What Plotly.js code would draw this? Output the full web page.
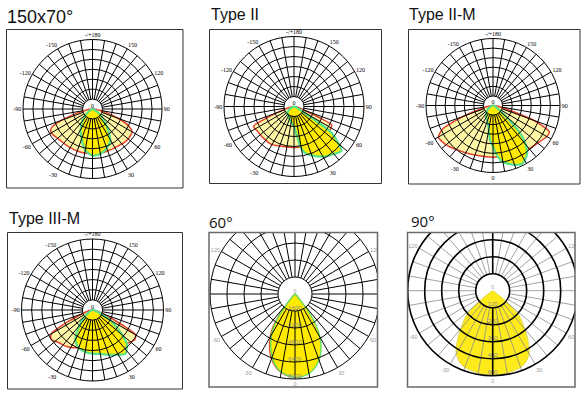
<!DOCTYPE html>
<html><head><meta charset="utf-8">
<script src="https://cdn.plot.ly/plotly-3.0.1.min.js"></script>
<style>html,body{margin:0;padding:0;background:#fff}#chart{width:583px;height:394px}</style>
</head><body><div id="chart"></div>
<script>
// ---------------- data ----------------
const titles = ["150x70°", "Type II", "Type II-M", "Type III-M", "60°", "90°"];
const gridAngles = [0,10,20,30,40,50,60,70,80,90,100,110,120,130,140,150,160,170,180,190,200,210,220,230,240,250,260,270,280,290,300,310,320,330,340,350];
const labelAngles = [0,30,60,90,120,150,180,210,240,270,300,330];
const labelTexts  = ["0","30","60","90","120","150","-/+180","-150","-120","-90","-60","-30"];
// labels that stay inside the frame of the clipped (60°, 90°) diagrams
const clippedLabelAngles = [0,30,60,120,240,300,330];

const ringsA = [1,2,3,4,5,6,7];
const rings60 = [1600,3200,4800,6400,8000];
const rings90 = [120,240,360,480,600];

// 150x70°
const p1RedTheta = [-90,-85,-80,-75,-70,-65,-60,-50,-40,-30,-20,-10,0,10,20,30,40,50,60,65,70,75,80,85,90];
const p1RedR     = [0,0.3,0.7,1.6,3.3,4.6,4.8,4.6,4.5,4.5,4.5,4.5,4.5,4.5,4.5,4.5,4.6,4.7,4.6,4.0,2.8,1.5,0.7,0.3,0];
const p1GreenTheta = [-90,-70,-60,-50,-40,-30,-20,-10,0,10,20,30,40,50,60,70,90];
const p1GreenR     = [0,0.1,0.3,0.9,1.6,2.4,3.2,4.2,4.7,4.6,4.2,3.6,2.2,1.2,0.5,0.1,0];
// Type II
const p2RedTheta = [-90,-80,-75,-70,-67,-64,-55,-45,-30,-20,-10,0,10,20,30,45,55,64,66,68,72,80,90];
const p2RedR     = [0,0.4,0.9,1.8,3.0,4.5,4.4,4.4,4.4,4.2,4.1,4.1,4.1,4.2,4.3,4.3,4.3,4.2,3.0,1.8,0.8,0.3,0];
const p2GreenTheta = [-90,-70,-60,-50,-40,-30,-20,-10,0,5,10,15,20,30,40,47,51,55,57,60,65,75,90];
const p2GreenR     = [0,0.2,0.5,0.8,1.0,1.1,1.3,1.6,2.0,2.8,4.3,4.9,5.2,5.8,6.2,6.5,5.6,4.6,2.5,1.0,0.4,0.1,0];
// Type II-M
const p3RedTheta = [-90,-80,-75,-70,-65,-60,-50,-40,-30,-20,-10,0,10,20,30,40,50,60,65,70,75,80,90];
const p3RedR     = [0,0.5,1.2,3.3,5.8,6.6,6.4,6.0,5.7,5.5,5.4,5.4,5.4,5.5,5.7,5.9,6.1,6.5,6.5,4.5,1.5,0.6,0];
const p3GreenTheta = [-90,-60,-45,-30,-15,-5,0,5,10,20,27,35,40,45,50,55,65,90];
const p3GreenR     = [0,0.4,1.0,1.4,2.0,3.6,4.3,5.3,6.0,6.6,6.8,6.2,5.3,3.8,1.6,0.8,0.3,0];
// Type III-M
const p4RedTheta = [-90,-80,-70,-65,-60,-55,-45,-35,-20,-10,0,10,20,35,45,55,60,65,70,80,90];
const p4RedR     = [0,0.3,1.0,2.5,4.7,5.0,4.6,4.4,4.0,3.8,3.8,3.8,4.0,4.4,4.7,5.1,4.9,2.5,1.0,0.3,0];
const p4GreenTheta = [-90,-60,-50,-40,-30,-20,-10,0,10,20,30,37,45,50,55,60,65,75,90];
const p4GreenR     = [0,0.4,1.0,2.0,3.4,4.0,4.2,4.3,4.4,4.7,5.1,5.4,4.8,3.8,2.8,2.0,1.0,0.3,0];
// 60°
const p5Theta  = [-60,-50,-45,-40,-37,-34,-30,-25,-20,-15,-10,-5,0,5,10,15,20,25,30,34,37,40,45,50,60];
const p5RedR   = [0,0,200,900,2400,3700,4700,5700,6500,7100,7500,7750,7800,7750,7500,7000,6300,5400,4300,3200,2100,800,200,0,0];
const p5GreenR = [0,0,200,800,2200,3400,4400,5400,6300,7000,7450,7700,7850,7800,7600,7200,6600,5800,4700,3500,2300,900,200,0,0];
// 90°
const p6Theta = [-70,-60,-55,-52,-50,-47,-45,-40,-36,-33,-30,-25,-20,-10,0,10,20,25,30,33,36,40,45,47,50,52,55,60,70];
const p6R     = [0,10,40,100,170,250,280,350,420,470,515,555,577,590,595,590,577,555,515,470,420,350,280,250,170,100,40,10,0];

// ---------------- layout geometry & styles ----------------
const W = 583, H = 394;
const geom = [
  {cx:92.5, cy:109,   R:69.5, box:[6.5,29.5,183,188],     tx:5,   ty:17.5, ts:18},
  {cx:294,  cy:106.5, R:70,   box:[209.5,29.5,381.5,183.5],tx:209, ty:14.5, ts:16},
  {cx:493,  cy:105.5, R:67,   box:[408.5,29.5,580,184],   tx:407, ty:14.5, ts:16},
  {cx:92.5, cy:310,   R:71,   box:[7.5,232.5,182.5,389],  tx:7,   ty:219,  ts:16},
  {cx:295,  cy:294,   R:85,   box:[209,232.5,377.5,387],  tx:207, ty:221.5, ts:15},
  {cx:492.7,cy:290.7, R:85,   box:[407.5,232.5,575,387],  tx:409, ty:220.5, ts:15}
];
const RED = '#E4442C', GREEN = '#55E38A', PALE = '#FFF6A6', YEL = '#FFEA00';

const panels = [
  {curves:[[p1RedTheta,p1RedR,'red'],[p1GreenTheta,p1GreenR,'green']], rings:ringsA, style:'A', zeroTick:false},
  {curves:[[p2RedTheta,p2RedR,'red'],[p2GreenTheta,p2GreenR,'green']], rings:ringsA, style:'A', zeroTick:false},
  {curves:[[p3RedTheta,p3RedR,'red'],[p3GreenTheta,p3GreenR,'green']], rings:ringsA, style:'A', zeroTick:true},
  {curves:[[p4RedTheta,p4RedR,'red'],[p4GreenTheta,p4GreenR,'green']], rings:ringsA, style:'A', zeroTick:false},
  {curves:[[p5Theta,p5RedR,'red60'],[p5Theta,p5GreenR,'green60']], rings:rings60, style:'B', zeroTick:true},
  {curves:[[p6Theta,p6R,'yellow90']], rings:rings90, style:'C', zeroTick:true}
];

function curveStyle(kind){
  switch(kind){
    case 'red': return {line:{color:RED,width:1.5}, fillcolor:PALE};
    case 'green': return {line:{color:GREEN,width:2.2}, fillcolor:YEL};
    case 'red60': return {line:{color:'#E0502E',width:1.2}, fillcolor:YEL};
    case 'green60': return {line:{color:'#62E060',width:1.4}, fillcolor:YEL};
    default: return {line:{color:'#E2D64C',width:1}, fillcolor:'#FFEA1C'};
  }
}

const data = [];
const layout = {
  width:W, height:H, margin:{l:0,r:0,t:0,b:0}, paper_bgcolor:'#fff', plot_bgcolor:'#fff',
  showlegend:false, annotations:[], shapes:[]
};
const pairIds = [['polar','polar2'],['polar3','polar4'],['polar5','polar6'],['polar7','polar8'],['polar10','polar11'],['polar12','polar13']];

panels.forEach((p,i)=>{
  const g = geom[i];
  const dom = {x:[(g.cx-g.R)/W,(g.cx+g.R)/W], y:[1-(g.cy+g.R)/H, 1-(g.cy-g.R)/H]};
  const [dId, gId] = pairIds[i];
  const rmax = p.rings[p.rings.length-1];
  const r0 = p.rings[0];
  const sA = p.style === 'A';
  // data polar
  layout[dId] = {
    domain:dom, bgcolor:'rgba(0,0,0,0)',
    radialaxis:{visible:false, range:[0,rmax]},
    angularaxis:{visible:false, rotation:-90, direction:'counterclockwise'}
  };
  p.curves.forEach(c=>{
    const st = curveStyle(c[2]);
    data.push({type:'scatterpolar', subplot:dId, theta:c[0], r:c[1], mode:'lines', fill:'toself',
      fillcolor:st.fillcolor, line:Object.assign({shape:'spline', smoothing:0.6}, st.line), hoverinfo:'skip'});
  });
  data.push({type:'scatterpolar', subplot:dId, theta:[180], r:[0], mode:'text', text:['0'], textposition:'top center',
    textfont:{family: sA ? 'Liberation Serif' : 'Liberation Sans', size: sA ? 6 : 5, color: sA ? '#000' : '#999'}, hoverinfo:'skip'});

  // grid polar
  const tt = gridAngles.map(a=>{
    const k = labelAngles.indexOf(a);
    if (k < 0) return '';
    if (a === 0 && !p.zeroTick) return '';
    if (!sA && clippedLabelAngles.indexOf(a) < 0) return '';
    return labelTexts[k];
  });
  layout[gId] = {
    domain:dom, bgcolor:'rgba(0,0,0,0)', hole: r0/rmax,
    radialaxis:{range:[r0*0.9995, rmax], tickvals:p.rings, showticklabels:false, ticks:'', showline:false,
      showgrid:true, gridcolor:'#000', gridwidth: p.style==='C' ? 1.6 : 1},
    angularaxis:{rotation:-90, direction:'counterclockwise', tickvals:gridAngles, ticktext:tt, ticks:'',
      showgrid:true, gridcolor: p.style==='C' ? '#8a8a8a' : '#000', gridwidth: p.style==='C' ? 0.8 : 1,
      showline:true, linecolor:'#000', linewidth: p.style==='C' ? 1.6 : 1,
      tickfont: sA ? {family:'Liberation Serif', size:6, color:'#000'} : {family:'Liberation Sans', size:5.5, color:'#9a9a9a'}}
  };
  if (sA) {
    data.push({type:'scatterpolar', subplot:gId, r:p.rings, theta:p.rings.map(()=>0), mode:'none', hoverinfo:'skip'});
  } else {
    data.push({type:'scatterpolar', subplot:gId, r:p.rings, theta:p.rings.map(()=>0), mode:'text',
      text:p.rings.map(String), textposition:'top center',
      textfont:{family:'Liberation Sans', size:6, color:'#8a8a8a'}, hoverinfo:'skip'});
  }
  if (p.style === 'C') {
    data.push({type:'scatterpolar', subplot:gId, r:[r0,rmax,null,r0,rmax], theta:[0,0,null,180,180],
      mode:'lines', line:{color:'#000', width:1.6}, hoverinfo:'skip'});
  }
  // title
  layout.annotations.push({xref:'paper', yref:'paper', x:g.tx/W, y:1-g.ty/H, xanchor:'left', yanchor:'middle',
    text:titles[i], showarrow:false,
    font:{family: p.style==='A' ? 'Liberation Sans, Arial' : 'Open Sans, Liberation Sans', size:g.ts, color:'#111'}});
});

// masks for clipped panels (60°, 90°)
const px = (x)=>x/W, py=(y)=>1-y/H;
const masks = [[184.5,186,583,232.5],[184.5,186,209,394],[377.5,186,407.5,394],[575,186,583,394],[184.5,387,583,394]];
masks.forEach(m=>layout.shapes.push({type:'rect', xref:'paper', yref:'paper', x0:px(m[0]), x1:px(m[2]), y0:py(m[3]), y1:py(m[1]),
  fillcolor:'#fff', line:{width:0}, layer:'above'}));
geom.forEach((g,i)=>{
  const b = g.box; const soft = i>=4;
  layout.shapes.push({type:'rect', xref:'paper', yref:'paper', x0:px(b[0]), x1:px(b[2]), y0:py(b[3]), y1:py(b[1]),
    fillcolor:'rgba(0,0,0,0)', line:{color: soft ? '#6a6a6a' : '#333', width: soft ? 1.5 : 1}, layer:'above'});
});

Plotly.newPlot('chart', data, layout, {staticPlot:true, displayModeBar:false});
</script></body></html>
